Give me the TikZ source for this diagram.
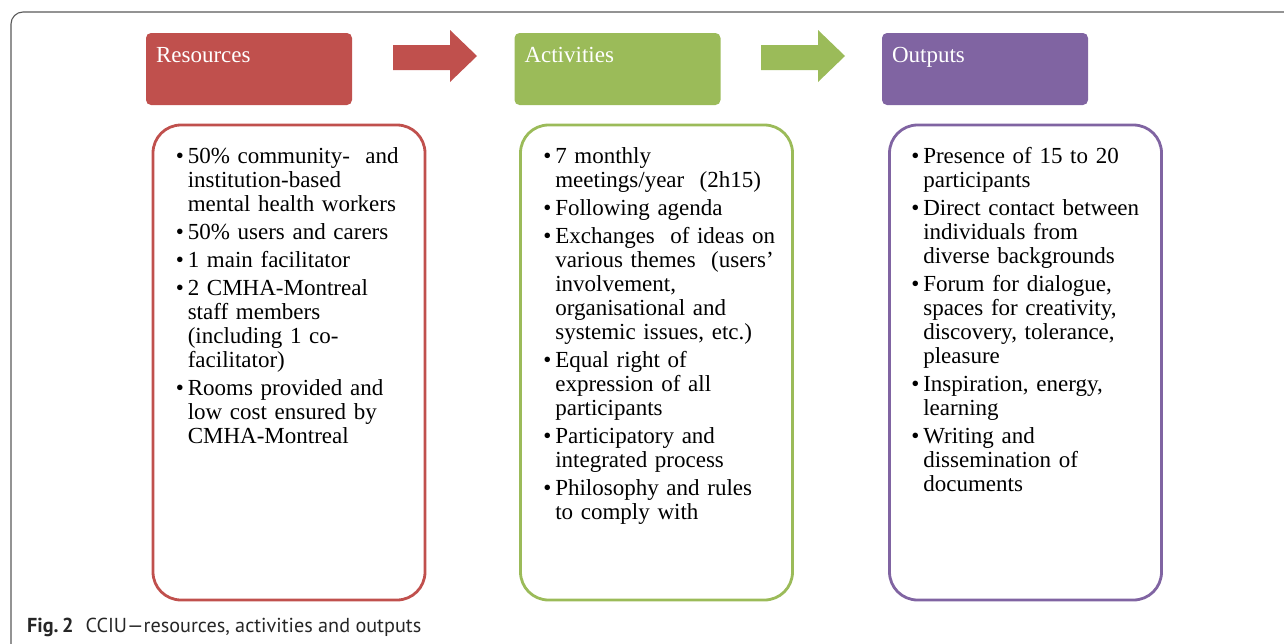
\documentclass[tikz,border=0pt]{standalone}
\usepackage{fontspec}
\setmainfont{Liberation Serif}
\newfontfamily\capfont{PT Sans}
\usepackage{tikz}
\usetikzlibrary{positioning}

\definecolor{resred}{HTML}{C0504D}
\definecolor{actgreen}{HTML}{9BBB59}
\definecolor{outpurple}{HTML}{8064A2}

% one bullet item with hanging indent
\newcommand{\itm}[1]{\hangindent=13pt\hangafter=1\noindent\strut\makebox[13pt][l]{\hspace{1pt}\textbullet}#1\par\vspace{4pt}}

\begin{document}
\begin{tikzpicture}[x=1pt,y=-1pt,
		hdr/.style = {rectangle, rounded corners=5pt, minimum width=206pt, minimum height=72pt, inner sep=0pt},
		hdrtxt/.style = {anchor=base west, inner sep=0pt, text=white, font=\fontsize{23}{24}\selectfont},
		cbox/.style = {rectangle, rounded corners=28pt, line width=2.8pt, minimum width=272pt, minimum height=475pt, inner sep=0pt},
		lst/.style = {inner sep=0pt, text width=245pt, align=left, font=\fontsize{23}{24}\selectfont},
	]
	\useasboundingbox (0,0) rectangle (1284,643);

	% figure frame
	\draw[black!65, line width=1.1pt, rounded corners=12pt] (11,660) -- (11,12) -- (1300,12);

	% headers
	\node[hdr, fill=resred] (res) at (249,69) {};
	\node[hdr, fill=actgreen] (act) at (617.5,69) {};
	\node[hdr, fill=outpurple] (out) at (985,69) {};
	\node[hdrtxt] (restxt) at ([shift={(10,-7)}]res.west |- 0,69) {Resources};
	\node[hdrtxt] (acttxt) at ([shift={(10,-7)}]act.west |- 0,69) {Activities};
	\node[hdrtxt] (outtxt) at ([shift={(10,-7)}]out.west |- 0,69) {Outputs};

	% block arrows
	\fill[resred] (393,45) -- (450,45) -- (450,30) -- (477,56) -- (450,82) -- (450,70) -- (393,70) -- cycle;
	\fill[actgreen] (761,45) -- (818,45) -- (818,30) -- (845,56) -- (818,82) -- (818,70) -- (761,70) -- cycle;

	% content boxes
	\node[cbox, draw=resred] (resbox) at (289,362.5) {};
	\node[cbox, draw=actgreen] (actbox) at (656.5,362.5) {};
	\node[cbox, draw=outpurple] (outbox) at (1025.5,362.5) {};

	\node[lst, below right=23.2pt and 23pt of resbox.north west] (reslist) {%
		\itm{50\% community-~ and\newline institution-based\newline mental health workers}
		\itm{50\% users and carers}
		\itm{1 main facilitator}
		\itm{2 CMHA-Montreal\newline staff members\newline (including 1 co-\newline facilitator)}
		\itm{Rooms provided and\newline low cost ensured by\newline CMHA-Montreal}
	};
	\node[lst, below right=23.2pt and 23pt of actbox.north west] (actlist) {%
		\itm{7 monthly\newline meetings/year~~(2h15)}
		\itm{Following agenda}
		\itm{Exchanges~ of ideas on\newline various themes~ (users’\newline involvement,\newline organisational and\newline systemic issues, etc.)}
		\itm{Equal right of\newline expression of all\newline participants}
		\itm{Participatory and\newline integrated process}
		\itm{Philosophy and rules\newline to comply with}
	};
	\node[lst, below right=23.2pt and 22pt of outbox.north west] (outlist) {%
		\itm{Presence of 15 to 20\newline participants}
		\itm{Direct contact between\newline individuals from\newline diverse backgrounds}
		\itm{Forum for dialogue,\newline spaces for creativity,\newline discovery, tolerance,\newline pleasure}
		\itm{Inspiration, energy,\newline learning}
		\itm{Writing and\newline dissemination of\newline documents}
	};

	% caption
	\node[anchor=base west, inner sep=0pt, text=black!85, font=\capfont\fontsize{20.2}{24}\selectfont] (cap) at (27,632) {\textbf{Fig.\,2}\hspace{12pt}CCIU—resources, activities and outputs};
\end{tikzpicture}
\end{document}
